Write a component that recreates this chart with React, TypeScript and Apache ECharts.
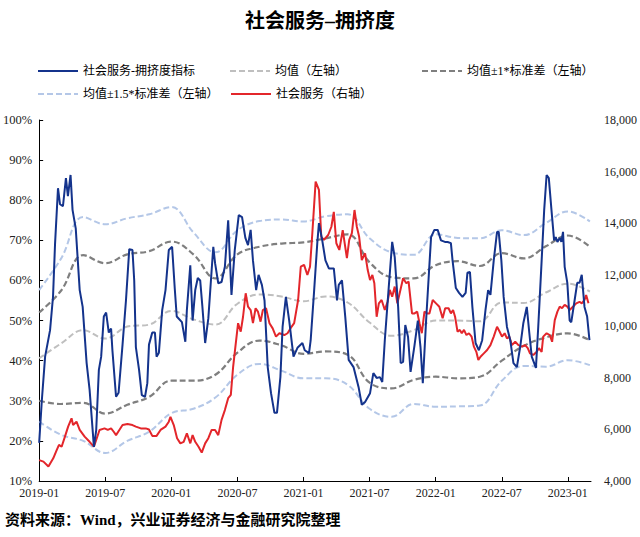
import React, { useEffect, useRef } from "react";
import * as echarts from "echarts";

const xTickLabels = ["2019-01", "2019-07", "2020-01", "2020-07", "2021-01", "2021-07", "2022-01", "2022-07", "2023-01"];

// crowding index (left axis, %) — x in months since 2019-01
const idxMonths = [0, 0.24, 0.54, 0.99, 1.26, 1.44, 1.71, 1.89, 2.16, 2.43, 2.61, 2.85, 3.03, 3.32, 3.68, 3.95, 4.31, 4.58, 4.97, 5.18, 5.42, 5.63, 5.87, 6.08, 6.32, 6.53, 6.65, 6.98, 7.21, 7.57, 7.88, 8.18, 8.47, 8.63, 8.78, 9.07, 9.32, 9.61, 9.82, 9.97, 10.27, 10.51, 10.66, 10.87, 11.17, 11.47, 11.77, 12.07, 12.31, 12.49, 12.96, 13.27, 13.41, 13.72, 13.93, 14.17, 14.4, 14.62, 14.82, 15.07, 15.36, 15.66, 15.81, 15.97, 16.26, 16.56, 16.86, 17.16, 17.46, 17.76, 18.12, 18.42, 18.72, 18.96, 19.2, 19.41, 19.7, 19.92, 20.22, 20.46, 20.75, 21.05, 21.36, 21.59, 21.9, 22.1, 22.4, 22.7, 23.09, 23.45, 23.9, 24.11, 24.5, 24.65, 24.95, 25.25, 25.4, 25.7, 25.99, 26.3, 26.75, 27.04, 27.2, 27.49, 27.79, 28.1, 28.54, 29.0, 29.29, 29.59, 30.04, 30.34, 30.64, 30.93, 31.15, 31.38, 31.74, 32.05, 32.28, 32.59, 32.82, 33.04, 33.24, 33.49, 33.72, 34.08, 34.38, 34.62, 34.83, 35.13, 35.58, 35.88, 36.18, 36.48, 36.84, 37.08, 37.38, 37.53, 37.83, 38.12, 38.43, 38.72, 38.88, 39.11, 39.33, 39.62, 39.92, 40.22, 40.52, 40.76, 40.97, 41.27, 41.57, 41.72, 41.96, 42.17, 42.47, 42.77, 43.06, 43.37, 43.67, 43.96, 44.27, 44.5, 44.72, 45.1, 45.31, 45.62, 45.85, 46.07, 46.27, 46.51, 46.75, 46.9, 47.05, 47.26, 47.41, 47.56, 47.71, 47.95, 48.16, 48.31, 48.61, 48.85, 49.06, 49.26, 49.51, 49.75, 49.96];
const idxValues = [19.5, 30, 41, 47.6, 56, 69, 83, 79, 78.5, 85.5, 81, 86.3, 77.6, 73, 57.6, 53.4, 39.4, 32.7, 18.5, 22.7, 37.7, 41, 51, 52, 47, 48, 42.6, 31, 32, 44, 55, 67.8, 67.6, 60, 43.4, 37.7, 31.4, 31, 34.4, 44, 47, 47, 41, 42, 52.6, 57.6, 67.6, 68.4, 58, 51, 49.6, 44.7, 52.6, 63.8, 50, 57.6, 60.6, 60, 53.4, 44.4, 50.6, 62.6, 68.4, 64.3, 59.3, 59.6, 63.4, 75, 56.4, 67.6, 76.3, 75.8, 70.6, 68.8, 72.6, 65, 57.6, 61.4, 58.9, 55, 38.4, 31.9, 27, 27, 35.9, 48.4, 55.9, 50, 41, 43.2, 44.4, 42.6, 41.9, 45.1, 56.9, 69.3, 74.3, 70, 65, 63, 63, 55, 58.9, 60, 50.9, 40.2, 38.4, 33.4, 29, 29.7, 31.9, 36.9, 35.7, 35.9, 34.7, 45.1, 58.4, 69.6, 65.8, 53.4, 39.4, 39.7, 48.9, 45.9, 37.2, 43.9, 50, 43.4, 34.4, 50, 70.8, 72.6, 72.6, 70, 69.6, 69.6, 69.3, 65, 58.1, 56.9, 55.9, 56.9, 61.9, 62.1, 53.4, 44.4, 42.6, 45.1, 52.6, 57.6, 56.4, 65, 72.1, 72.1, 65, 55.9, 48.4, 45.1, 39.4, 38.4, 43.4, 49.4, 53.4, 46.9, 41, 38.2, 48.4, 65, 77.6, 86.3, 85.5, 77.6, 70, 70.8, 69.6, 70.6, 69.6, 72.1, 63.4, 59.4, 50, 49.6, 55, 59.4, 59.4, 61.4, 53.4, 51, 45.1];

// social services index (right axis)
const svcMonths = [0, 0.39, 0.84, 1.28, 1.59, 1.8, 2.04, 2.34, 2.63, 2.94, 3.08, 3.39, 3.68, 4.13, 4.58, 4.97, 5.18, 5.48, 5.93, 6.23, 6.53, 6.77, 6.98, 7.28, 7.57, 8.02, 8.47, 8.78, 9.23, 9.68, 9.97, 10.27, 10.66, 11.02, 11.47, 11.77, 11.92, 12.22, 12.52, 12.82, 13.12, 13.41, 13.72, 13.93, 14.17, 14.47, 14.76, 15.07, 15.36, 15.66, 15.97, 16.26, 16.56, 16.86, 17.16, 17.4, 17.61, 17.85, 18.06, 18.3, 18.51, 18.75, 18.96, 19.2, 19.41, 19.65, 19.86, 20.1, 20.31, 20.6, 20.91, 21.2, 21.5, 21.81, 22.26, 22.55, 22.91, 23.15, 23.51, 23.75, 24.05, 24.35, 24.59, 24.8, 25.1, 25.4, 25.61, 25.85, 26.24, 26.53, 26.75, 26.98, 27.25, 27.56, 27.94, 28.15, 28.39, 28.63, 28.84, 29.05, 29.29, 29.59, 29.83, 30.04, 30.25, 30.43, 30.64, 30.84, 31.09, 31.38, 31.63, 31.83, 32.05, 32.28, 32.52, 32.73, 33.04, 33.33, 33.54, 33.85, 34.08, 34.32, 34.53, 34.74, 34.98, 35.22, 35.43, 35.73, 36.03, 36.33, 36.63, 36.86, 37.17, 37.38, 37.58, 37.76, 37.98, 38.19, 38.37, 38.57, 38.79, 39.02, 39.26, 39.47, 39.69, 39.87, 40.07, 40.37, 40.67, 40.97, 41.27, 41.57, 41.81, 42.02, 42.26, 42.47, 42.68, 42.92, 43.22, 43.51, 43.82, 44.12, 44.36, 44.56, 44.86, 45.17, 45.37, 45.62, 45.76, 46.07, 46.36, 46.57, 46.81, 47.05, 47.26, 47.47, 47.71, 47.95, 48.16, 48.46, 48.76, 49.06, 49.26, 49.51, 49.66, 49.87];
const svcValues = [4810, 4750, 4560, 4880, 5200, 5400, 5330, 5720, 6110, 6430, 6170, 6300, 5980, 5720, 5520, 5330, 5590, 5980, 6040, 5980, 6040, 5910, 5780, 5980, 6170, 6210, 6170, 6110, 6040, 6040, 6000, 5750, 5750, 5980, 6110, 6300, 6490, 6170, 5660, 5460, 5520, 5850, 5460, 5780, 5520, 5330, 5100, 5460, 5660, 5980, 5980, 5780, 6370, 6750, 7210, 7340, 8430, 9340, 10120, 9790, 10370, 11280, 10760, 10630, 10120, 10700, 10570, 10180, 10630, 10700, 10120, 9920, 9600, 9730, 9660, 9730, 9980, 10120, 11020, 12310, 12380, 11990, 12310, 13610, 15610, 15290, 13470, 13350, 13540, 13860, 14440, 13220, 12960, 13730, 12640, 13350, 13610, 14510, 13860, 13470, 12570, 12830, 12180, 11790, 11990, 11670, 10370, 10890, 11020, 10630, 10950, 11410, 11150, 11540, 10890, 11280, 11860, 11670, 11730, 10500, 10500, 10570, 10120, 9730, 10570, 10500, 10500, 11020, 10890, 10760, 10310, 10700, 10700, 10500, 10630, 10370, 9790, 9860, 9730, 9860, 9660, 9730, 9600, 9210, 9010, 8690, 8820, 8950, 9080, 9270, 9600, 9980, 9790, 9600, 9730, 9530, 9600, 9270, 9400, 9270, 9210, 9270, 9150, 8950, 8890, 9010, 9150, 9010, 9600, 9730, 9660, 9400, 10240, 10570, 10760, 10700, 10830, 10760, 10630, 10760, 10890, 10950, 10890, 11020, 11210, 10890];

// rolling bands (left axis, %)
const bandMonths = [0, 2, 4, 6, 8, 10, 12, 14, 16, 18, 20, 22, 24, 26, 28, 30, 32, 34, 36, 38, 40, 42, 44, 46, 48, 50];
const meanVals = [40.6, 44.3, 47.6, 45.5, 48.5, 49, 52.4, 50.3, 49, 54.2, 56.5, 56, 54.8, 56, 54.5, 49.5, 46.2, 47.6, 50, 50, 49.8, 54.5, 54.4, 57, 59.2, 57.2];
const up1Vals = [52, 57.5, 66.3, 64.3, 66.5, 67.3, 69.7, 66.5, 60.5, 66.5, 68.4, 69.2, 69.5, 70.5, 71.5, 64.5, 60.8, 60.5, 63.8, 64.8, 63.6, 66.8, 65.5, 68.5, 71.2, 68.4];
const dn1Vals = [30, 29.2, 29.5, 26.8, 29, 31, 35, 35, 36.5, 42, 45, 43.8, 41.7, 42.3, 41.5, 34.5, 33.1, 35.2, 36, 35.6, 36, 40, 43.7, 45.8, 46.8, 45.1];
const up15Vals = [57.6, 65.5, 75.8, 74, 75.5, 76.5, 78.3, 72, 67, 72.5, 74.8, 75.2, 74.7, 76, 76.5, 70.5, 67, 66.4, 71.5, 70.6, 70.5, 72.5, 71.3, 74.3, 77.2, 74.7];
const dn15Vals = [24.8, 21.5, 20, 17, 20, 22.3, 26.9, 28, 30.8, 36.5, 39.2, 37.5, 35.6, 35.6, 34, 28, 26, 29.2, 28.5, 28.6, 28.8, 35, 38.7, 38.5, 40.1, 38.9];

const N_IDX = "社会服务-拥挤度指标";
const N_MEAN = "均值（左轴）";
const N_1 = "均值±1*标准差（左轴）";
const N_15 = "均值±1.5*标准差（左轴）";
const N_SVC = "社会服务（右轴）";

const FONT = "'Liberation Serif', 'Noto Sans CJK SC', serif";

function pairs(xs: number[], ys: number[]) {
  return xs.map((x, i) => [x, ys[i]]);
}

export default function App() {
  const ref = useRef<HTMLDivElement>(null);
  useEffect(() => {
    if (!ref.current) return;
    const chart = echarts.init(ref.current, null, { renderer: "svg" });
    const dash = [6, 3];
    const bandSeries = (name: string, vals: number[], color: string, width: number) => ({
      name,
      type: "line",
      data: pairs(bandMonths, vals),
      smooth: 0.4,
      symbol: "none",
      lineStyle: { color, width, type: dash },
      itemStyle: { color },
      z: 2,
    });
    const legendCommon = {
      padding: 0,
      itemWidth: 40,
      itemHeight: 10,
      itemGap: 5,
      itemStyle: { opacity: 0 },
      textStyle: { fontSize: 12, color: "#000", fontFamily: FONT },
    };
    chart.setOption({
      animation: false,
      backgroundColor: "#fff",
      title: {
        text: "社会服务–拥挤度",
        left: "center",
        top: 6,
        textStyle: { fontSize: 20, fontWeight: "bold", color: "#000", fontFamily: FONT },
      },
      legend: [
        { ...legendCommon, data: [N_IDX], left: 37, top: 65 },
        { ...legendCommon, data: [N_MEAN], left: 229, top: 65 },
        { ...legendCommon, data: [N_1], left: 421, top: 65 },
        { ...legendCommon, data: [N_15], left: 37, top: 88 },
        { ...legendCommon, data: [N_SVC], left: 230, top: 88 },
      ],
      graphic: [
        {
          type: "text",
          left: 5,
          top: 512,
          style: {
            text: "资料来源：Wind，兴业证券经济与金融研究院整理",
            fontSize: 15,
            fontWeight: "bold",
            fill: "#000",
            fontFamily: FONT,
          },
        },
      ],
      grid: { left: 39, right: 44, top: 120, bottom: 56 },
      xAxis: {
        type: "value",
        min: 0,
        max: 50.1,
        interval: 6,
        axisLine: { lineStyle: { color: "#000", width: 1 } },
        axisTick: { inside: true, length: 4, lineStyle: { color: "#000" } },
        splitLine: { show: false },
        axisLabel: {
          showMaxLabel: false,
          margin: 6,
          fontSize: 12,
          color: "#222",
          fontFamily: FONT,
          formatter: (v: number) => (v % 6 === 0 ? xTickLabels[v / 6] || "" : ""),
        },
      },
      yAxis: [
        {
          type: "value",
          min: 10,
          max: 100,
          interval: 10,
          axisLine: { show: true, lineStyle: { color: "#000" } },
          axisTick: { show: true, inside: true, length: 4, lineStyle: { color: "#000" } },
          splitLine: { show: false },
          axisLabel: { formatter: "{value}%", fontSize: 12.5, color: "#222", fontFamily: FONT, margin: 7 },
        },
        {
          type: "value",
          min: 4000,
          max: 18000,
          interval: 2000,
          axisLine: { show: false },
          axisTick: { show: false },
          splitLine: { show: false },
          axisLabel: { fontSize: 12, color: "#222", fontFamily: FONT, margin: 13 },
        },
      ],
      series: [
        bandSeries(N_15, up15Vals, "#b4c7e7", 2),
        bandSeries(N_15, dn15Vals, "#b4c7e7", 2),
        bandSeries(N_MEAN, meanVals, "#bfbfbf", 2),
        bandSeries(N_1, up1Vals, "#7f7f7f", 2.2),
        bandSeries(N_1, dn1Vals, "#7f7f7f", 2.2),
        {
          name: N_SVC,
          type: "line",
          yAxisIndex: 1,
          data: pairs(svcMonths, svcValues),
          symbol: "none",
          lineStyle: { color: "#e3262b", width: 2 },
          itemStyle: { color: "#e3262b" },
          z: 3,
        },
        {
          name: N_IDX,
          type: "line",
          data: pairs(idxMonths, idxValues),
          symbol: "none",
          lineStyle: { color: "#14338c", width: 2 },
          itemStyle: { color: "#14338c" },
          z: 4,
        },
      ],
    });
    return () => chart.dispose();
  }, []);
  return (
    <div
      ref={ref}
      style={{ position: "fixed", left: 0, top: 0, width: 640, height: 537, background: "#fff" }}
    />
  );
}
